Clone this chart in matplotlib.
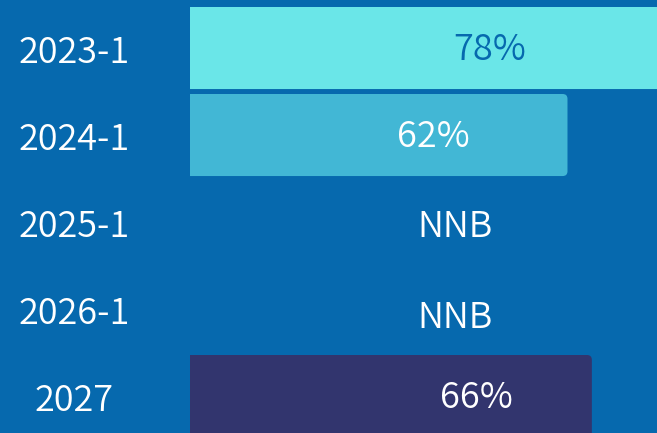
import numpy as np
import matplotlib
matplotlib.use("Agg")
import matplotlib.pyplot as plt
from matplotlib.patches import FancyBboxPatch

plt.rcParams['font.family'] = ['Noto Sans CJK JP', 'DejaVu Sans']

categories = ['2023-1', '2024-1', '2025-1', '2026-1', '2027']
values = [78, 62, np.nan, np.nan, 66]
bar_colors = ['#6AE6E8', '#42B7D5', '#42B7D5', '#42B7D5', '#32356E']
text_colors = ['#0669AE', 'white', 'white', 'white', 'white']
missing_text = 'NNB'
# where the value labels sit, in x units
label_x = [49.3, 39.9, 43.5, 43.5, 47.1]

bg = '#0669AE'
fs = 26
fw = 350

fig = plt.figure(figsize=(6.57, 4.33), dpi=100, facecolor=bg)
ax = fig.add_axes([190 / 657, 0, 1 - 190 / 657, 1])
ax.set_facecolor(bg)

y = np.arange(len(categories))
vals = np.nan_to_num(values)
bars = ax.barh(y, vals, height=0.943, color=bar_colors, linewidth=0)

# swap the plain rectangles for ones with rounded right corners
for b in bars:
    if b.get_width() == 0:
        continue
    x0, y0 = b.get_x(), b.get_y()
    w, h = b.get_width(), b.get_height()
    rb = FancyBboxPatch((x0 - 2, y0), w + 2, h,
                        boxstyle='round,pad=0,rounding_size=0.8',
                        mutation_aspect=0.07,
                        facecolor=b.get_facecolor(), linewidth=0)
    ax.add_patch(rb)
    b.set_visible(False)

for i, v in enumerate(values):
    if np.isnan(v):
        ax.text(label_x[i], y[i] + 0.05 * (i - 1), missing_text, ha='center',
                va='center', fontsize=fs, color=text_colors[i], fontweight=fw)
    else:
        ax.text(label_x[i], y[i] + 0.02, f'{v:.0f}%', ha='center', va='center',
                fontsize=fs, color=text_colors[i], fontweight=fw)

ax.set_xlim(0, 76.7)
ax.set_ylim(4.425, -0.552)
ax.set_xticks([])
ax.set_yticks(y)
ax.set_yticklabels(categories, fontsize=fs, color='white', ha='center',
                   fontweight=fw)
ax.tick_params(axis='y', length=0, pad=83.5)
for s in ax.spines.values():
    s.set_visible(False)

fig.savefig('out.png', dpi=100, facecolor=bg)
